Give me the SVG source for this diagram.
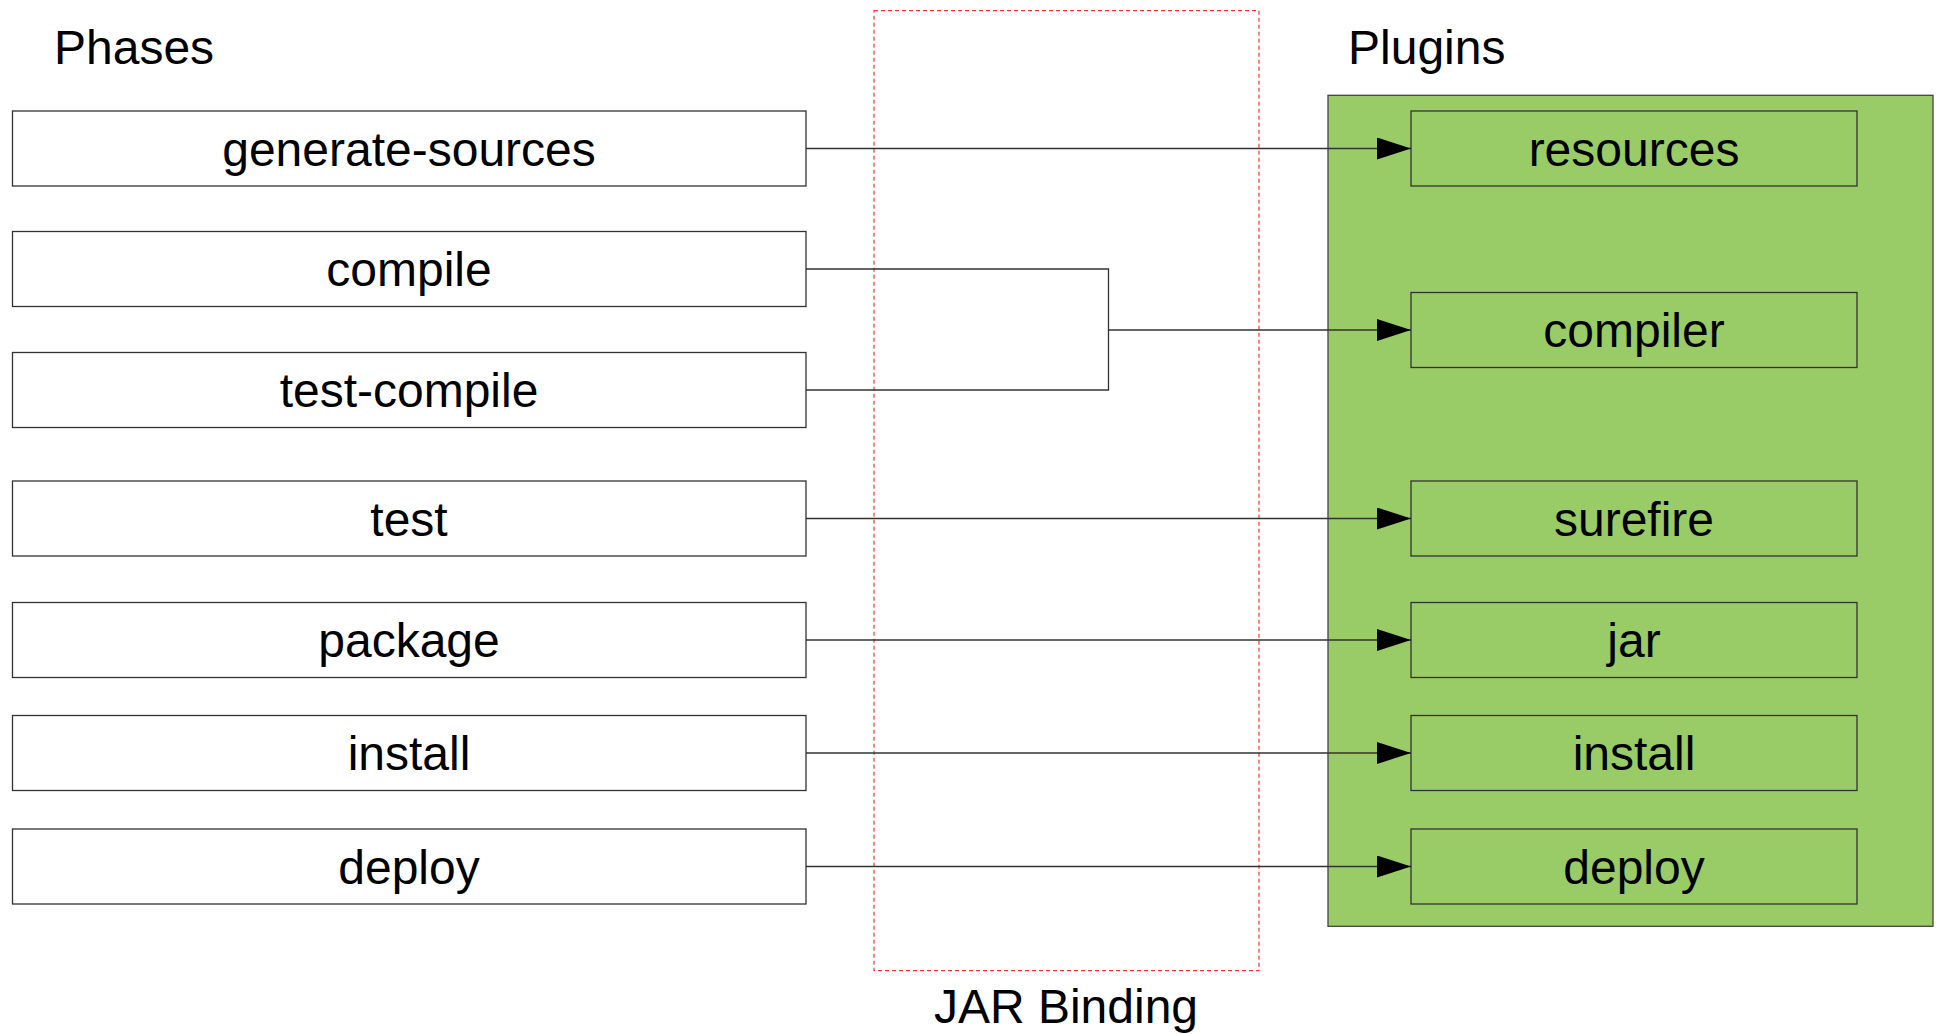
<svg xmlns="http://www.w3.org/2000/svg" width="1939" height="1034" viewBox="0 0 1939 1034">
  <defs>
    <style>
      .phase { fill: #ffffff; stroke: #333333; stroke-width: 1.3; }
      .plugin { fill: #99cc66; stroke: #333333; stroke-width: 1.3; }
      .label { font-family: "Liberation Sans", Arial, sans-serif; font-size: 48px; fill: #000000; }
      .center { text-anchor: middle; }
      .conn { fill: none; stroke: #333333; stroke-width: 1.3; }
    </style>
    <marker id="arrow" markerUnits="userSpaceOnUse" markerWidth="34" markerHeight="22" refX="34" refY="11" orient="auto">
      <path d="M0,0 L34,11 L0,22 Z" fill="#000000"/>
    </marker>
  </defs>
  <rect width="1939" height="1034" fill="#ffffff"/>

  <g id="binding-frame">
    <rect x="874" y="10.7" width="385" height="960" fill="none" stroke="#ff3333" stroke-width="1.2" stroke-dasharray="4,3"/>
    <text class="label center" x="1066" y="1023">JAR Binding</text>
  </g>

  <g id="plugins-container">
    <rect x="1328" y="95.3" width="605" height="831" fill="#99cc66" stroke="#444444" stroke-width="1.3"/>
    <text class="label" x="1348" y="64">Plugins</text>
  </g>

  <text id="phases-title" class="label" x="54" y="64">Phases</text>

  <g id="phase-generate-sources"><rect class="phase" x="12.5" y="111" width="793.5" height="75"/><text class="label center" x="409" y="165.5">generate-sources</text></g>
  <g id="phase-compile"><rect class="phase" x="12.5" y="231.5" width="793.5" height="75"/><text class="label center" x="409" y="286">compile</text></g>
  <g id="phase-test-compile"><rect class="phase" x="12.5" y="352.5" width="793.5" height="75"/><text class="label center" x="409" y="407">test-compile</text></g>
  <g id="phase-test"><rect class="phase" x="12.5" y="481" width="793.5" height="75"/><text class="label center" x="409" y="535.5">test</text></g>
  <g id="phase-package"><rect class="phase" x="12.5" y="602.5" width="793.5" height="75"/><text class="label center" x="409" y="657">package</text></g>
  <g id="phase-install"><rect class="phase" x="12.5" y="715.5" width="793.5" height="75"/><text class="label center" x="409" y="770">install</text></g>
  <g id="phase-deploy"><rect class="phase" x="12.5" y="829" width="793.5" height="75"/><text class="label center" x="409" y="883.5">deploy</text></g>

  <g id="plugin-resources"><rect class="plugin" x="1411" y="111" width="446" height="75"/><text class="label center" x="1634" y="165.5">resources</text></g>
  <g id="plugin-compiler"><rect class="plugin" x="1411" y="292.5" width="446" height="75"/><text class="label center" x="1634" y="347">compiler</text></g>
  <g id="plugin-surefire"><rect class="plugin" x="1411" y="481" width="446" height="75"/><text class="label center" x="1634" y="535.5">surefire</text></g>
  <g id="plugin-jar"><rect class="plugin" x="1411" y="602.5" width="446" height="75"/><text class="label center" x="1634" y="657">jar</text></g>
  <g id="plugin-install"><rect class="plugin" x="1411" y="715.5" width="446" height="75"/><text class="label center" x="1634" y="770">install</text></g>
  <g id="plugin-deploy"><rect class="plugin" x="1411" y="829" width="446" height="75"/><text class="label center" x="1634" y="883.5">deploy</text></g>

  <g id="connectors">
    <path class="conn" d="M806,148.5 H1411" marker-end="url(#arrow)"/>
    <path class="conn" d="M806,269 H1108.5 V390 H806"/>
    <path class="conn" d="M1108.5,330 H1411" marker-end="url(#arrow)"/>
    <path class="conn" d="M806,518.5 H1411" marker-end="url(#arrow)"/>
    <path class="conn" d="M806,640 H1411" marker-end="url(#arrow)"/>
    <path class="conn" d="M806,753 H1411" marker-end="url(#arrow)"/>
    <path class="conn" d="M806,866.5 H1411" marker-end="url(#arrow)"/>
  </g>
</svg>
